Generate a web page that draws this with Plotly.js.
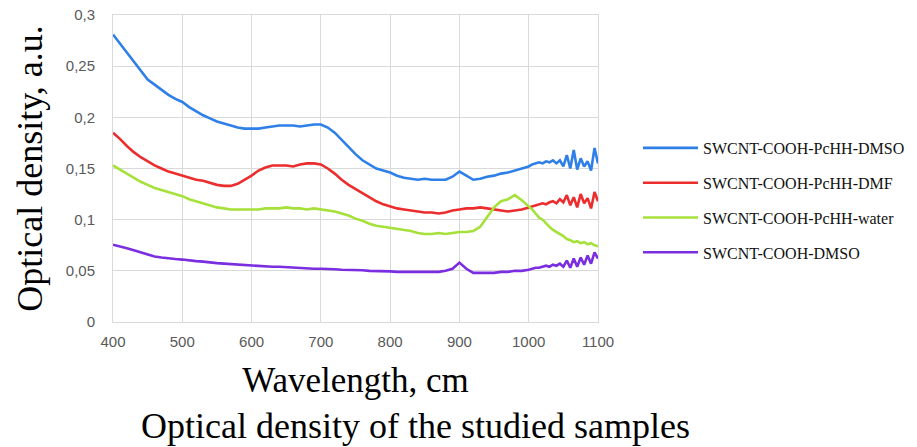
<!DOCTYPE html>
<html>
<head>
<meta charset="utf-8">
<script src="https://cdn.plot.ly/plotly-3.0.1.min.js"></script>
<style>html,body{margin:0;padding:0;background:#fff;}#chart{width:917px;height:447px;}</style>
</head>
<body>
<div id="chart"></div>
<script>
const wavelength = [400,410,420,430,440,450,460,470,480,490,500,510,520,530,540,550,560,570,580,590,600,610,620,630,640,650,660,670,680,690,700,710,720,730,740,750,760,770,780,790,800,810,820,830,840,850,860,870,880,890,900,910,920,930,940,950,960,970,980,990,1000,1005,1010,1015,1020,1025,1030,1035,1040,1045,1050,1055,1060,1065,1070,1075,1080,1085,1090,1095,1100];

const seriesNames = ["SWCNT-COOH-PcHH-DMSO","SWCNT-COOH-PcHH-DMF","SWCNT-COOH-PcHH-water","SWCNT-COOH-DMSO"];

const pchhDmso = [.281,.272,.263,.255,.246,.237,.232,.227,.222,.218,.215,.210,.206,.202,.199,.196,.194,.192,.190,.189,.189,.189,.190,.191,.192,.192,.192,.191,.192,.193,.193,.190,.185,.178,.170,.164,.158,.154,.150,.148,.146,.143,.141,.140,.139,.140,.139,.139,.139,.142,.147,.143,.139,.140,.142,.143,.145,.146,.148,.150,.152,.154,.155,.156,.155,.157,.156,.158,.155,.158,.152,.163,.150,.168,.149,.160,.152,.157,.148,.170,.155];

const pchhDmf = [.185,.179,.172,.166,.161,.157,.153,.150,.147,.145,.143,.141,.139,.138,.136,.134,.133,.133,.135,.139,.143,.148,.151,.153,.153,.153,.152,.154,.155,.155,.154,.150,.145,.139,.134,.130,.126,.122,.118,.115,.113,.111,.110,.109,.108,.107,.107,.106,.107,.109,.110,.111,.111,.112,.111,.110,.109,.108,.109,.110,.112,.113,.114,.115,.116,.115,.117,.118,.116,.120,.117,.124,.114,.122,.112,.125,.116,.121,.111,.127,.118];

const pchhWater = [.153,.149,.145,.141,.137,.134,.131,.129,.127,.125,.123,.120,.118,.116,.114,.112,.111,.110,.110,.110,.110,.110,.111,.111,.111,.112,.111,.111,.110,.111,.110,.109,.108,.106,.104,.101,.099,.096,.094,.093,.092,.091,.090,.089,.087,.086,.086,.087,.086,.087,.088,.088,.089,.093,.103,.112,.118,.120,.124,.119,.113,.110,.106,.102,.100,.096,.093,.090,.088,.086,.084,.081,.080,.078,.079,.077,.078,.076,.077,.075,.074];

const cooDmso = [.0755,.074,.072,.070,.068,.066,.064,.063,.062,.0615,.061,.060,.0595,.059,.058,.0575,.057,.0565,.056,.0555,.0555,.055,.0545,.054,.054,.0535,.053,.0525,.052,.052,.052,.052,.0515,.051,.051,.051,.0505,.050,.050,.0495,.0495,.049,.049,.049,.049,.049,.049,.049,.050,.052,.058,.052,.048,.048,.048,.048,.049,.049,.050,.050,.051,.052,.053,.053,.054,.055,.054,.056,.055,.057,.054,.060,.053,.062,.054,.063,.056,.065,.057,.068,.062];

const xTickVals = [400,500,600,700,800,900,1000,1100];
const yTickVals = [0,0.05,0.1,0.15,0.2,0.25,0.3];
const yTickText = ["0","0,05","0,1","0,15","0,2","0,25","0,3"];

const colors = ["#2e7fe8","#ec2d2d","#a6e13a","#7b2ee0"];
const allSeries = [pchhDmso, pchhDmf, pchhWater, cooDmso];

const traces = allSeries.map((ys, i) => ({
  x: wavelength, y: ys, type: "scatter", mode: "lines",
  name: seriesNames[i], legendgroup: "g" + i,
  line: {color: colors[i], width: 2.6}
}));

const serif = "Liberation Serif, Times New Roman, serif";
const tickFont = {family: "Liberation Sans, Arial, sans-serif", size: 15, color: "#595959"};

const layout = {
  width: 917, height: 447,
  margin: {l: 113, r: 319, t: 15, b: 125, autoexpand: false},
  paper_bgcolor: "#fff", plot_bgcolor: "#fff",
  showlegend: true,
  legend: {
    xref: "container", yref: "container",
    x: 638 / 917, xanchor: "left", y: 1 - 131 / 447, yanchor: "top",
    font: {family: serif, size: 16, color: "#111"},
    tracegroupgap: 11, itemwidth: 55, bgcolor: "rgba(0,0,0,0)"
  },
  xaxis: {
    range: [400, 1100], tickvals: xTickVals, ticks: "",
    showgrid: true, gridcolor: "#d9d9d9", gridwidth: 1,
    showline: true, mirror: true, linecolor: "#d9d9d9", linewidth: 1,
    zeroline: false, tickfont: tickFont, ticklabelstandoff: 6,
    title: {text: "Wavelength, cm", font: {family: serif, size: 35, color: "#000"}, standoff: 18}
  },
  yaxis: {
    range: [0, 0.3], tickvals: yTickVals, ticktext: yTickText, ticks: "",
    showgrid: true, gridcolor: "#d9d9d9", gridwidth: 1,
    showline: true, mirror: true, linecolor: "#d9d9d9", linewidth: 1,
    zeroline: false, tickfont: tickFont, ticklabelstandoff: 14,
    title: {text: "Optical density, a.u.", font: {family: serif, size: 36, color: "#000"}, standoff: 12}
  },
  annotations: [{
    text: "Optical density of the studied samples",
    xref: "paper", yref: "paper", x: (415 - 113) / 485, y: -0.34,
    xanchor: "center", yanchor: "middle", showarrow: false,
    font: {family: serif, size: 36, color: "#000"}
  }]
};

Plotly.newPlot("chart", traces, layout, {displayModeBar: false, staticPlot: true});
</script>
</body>
</html>
